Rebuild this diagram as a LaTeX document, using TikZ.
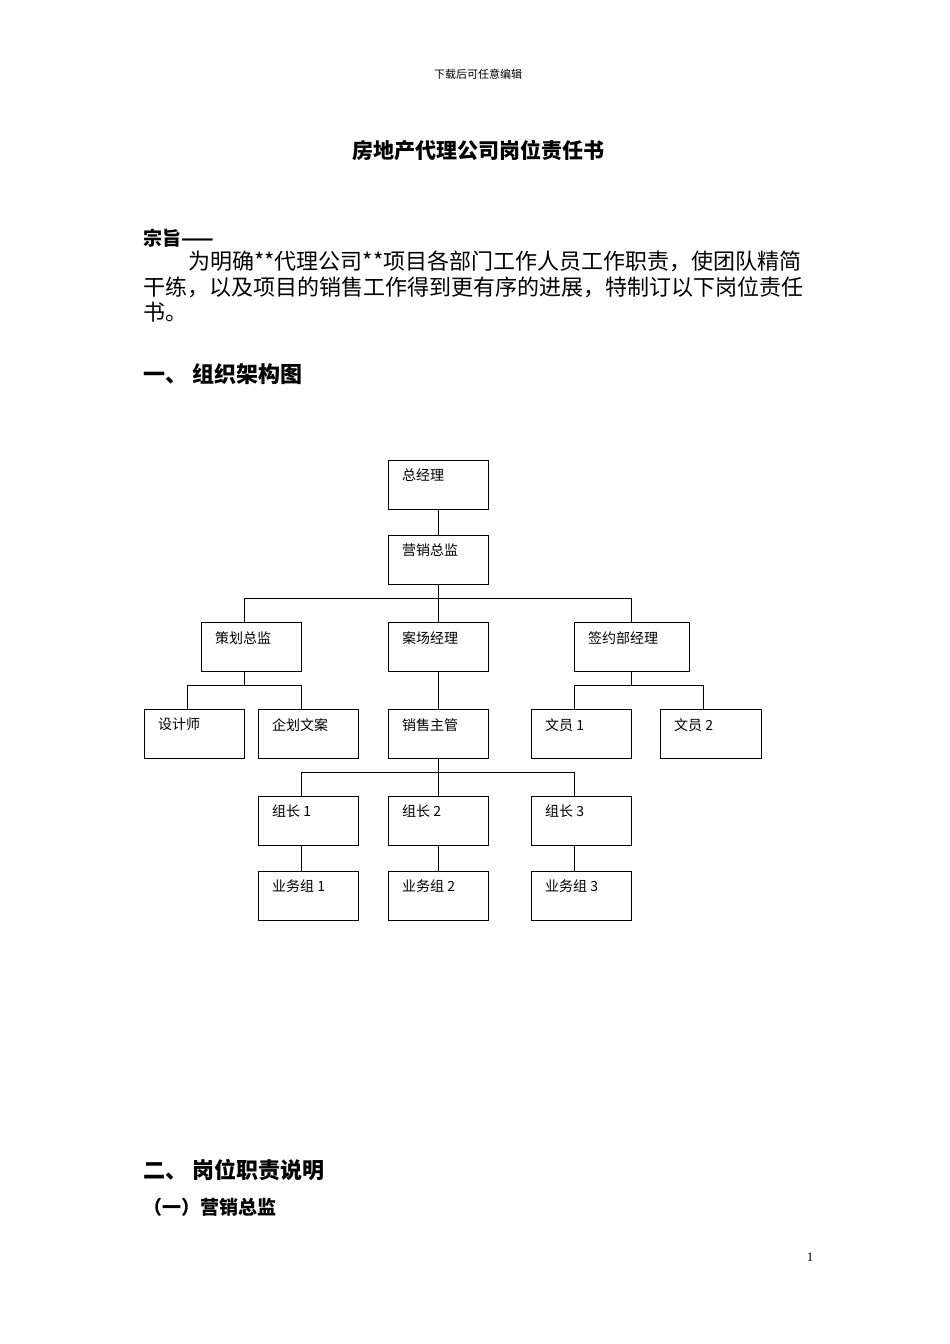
\documentclass[tikz,border=0pt]{standalone}
\usepackage{fontspec}
\setmainfont{Liberation Serif}
\newfontfamily\cjk{Noto Sans CJK SC}
\begin{document}
\begin{tikzpicture}[x=1pt,y=-1pt,
 box/.style={draw,thick,minimum width=100pt,minimum height=49pt,anchor=north west,inner sep=0pt},
 lbl/.style={anchor=north west,font=\cjk\fontsize{14}{16}\selectfont,inner sep=0pt},
 para/.style={anchor=west,font=\cjk\fontsize{22}{25}\selectfont,inner sep=0pt},
 ln/.style={thick}]
\useasboundingbox (0,0) rectangle (950,1344);
\node[font=\cjk\fontsize{11}{13}\selectfont] (hd) at (478,74) {下载后可任意编辑};
\node[font=\cjk\bfseries\fontsize{21}{24}\selectfont] (tt) at (478,150) {房地产代理公司岗位责任书};
\node[anchor=west,font=\cjk\bfseries\fontsize{19}{22}\selectfont,inner sep=0pt] (zz) at (143,238) {宗旨——};
\node[para] (p1) at (188,261) {为明确**代理公司**项目各部门工作人员工作职责，使团队精简};
\node[para] (p2) at (143,287) {干练，以及项目的销售工作得到更有序的进展，特制订以下岗位责任};
\node[para] (p3) at (143,312) {书。};
\node[anchor=west,font=\cjk\bfseries\fontsize{22}{25}\selectfont,inner sep=0pt] (s1) at (143,374) {一、 组织架构图};
\node[anchor=west,font=\cjk\bfseries\fontsize{22}{25}\selectfont,inner sep=0pt] (s2) at (143,1170) {二、 岗位职责说明};
\node[anchor=west,font=\cjk\bfseries\fontsize{19}{22}\selectfont,inner sep=0pt] (s3) at (143,1207) {（一）营销总监};
\node[font=\fontsize{13}{15}\selectfont] (pg) at (810,1257) {1};
\newcommand\bx[5]{\node[box,minimum width=#4pt] (#1) at (#2,#3) {};\node[lbl] at (#2+14,#3+9) {#5};}
\bx{gm}{388}{460}{100}{总经理}
\bx{yx}{388}{535}{100}{营销总监}
\bx{ch}{201}{622}{100}{策划总监}
\bx{ac}{388}{622}{100}{案场经理}
\bx{qy}{574}{622}{115}{签约部经理}
\bx{sj}{144}{709}{100}{设计师}
\bx{qh}{258}{709}{100}{企划文案}
\bx{xs}{388}{709}{100}{销售主管}
\bx{w1}{531}{709}{100}{文员 1}
\bx{w2}{660}{709}{101}{文员 2}
\bx{z1}{258}{796}{100}{组长 1}
\bx{z2}{388}{796}{100}{组长 2}
\bx{z3}{531}{796}{100}{组长 3}
\bx{y1}{258}{871}{100}{业务组 1}
\bx{y2}{388}{871}{100}{业务组 2}
\bx{y3}{531}{871}{100}{业务组 3}
\draw[ln] (gm.south) -- (yx.north);
\draw[ln] (yx.south) -- (yx.south|-0,598) coordinate (b1);
\draw[ln] (244,598) coordinate (b1l) -- (631,598) coordinate (b1r);
\draw[ln] (b1l) -- (b1l|-ch.north); \draw[ln] (b1) -- (ac.north); \draw[ln] (b1r) -- (b1r|-qy.north);
\draw[ln] (ch.south-|244,0) -- (244,685) coordinate (b2);
\draw[ln] (187,685) coordinate (b2l) -- (301,685) coordinate (b2r);
\draw[ln] (b2l) -- (b2l|-sj.north); \draw[ln] (b2r) -- (b2r|-qh.north);
\draw[ln] (ac.south) -- (xs.north);
\draw[ln] (qy.south-|631,0) -- (631,685);
\draw[ln] (574,685) coordinate (b3l) -- (703,685) coordinate (b3r);
\draw[ln] (b3l) -- (b3l|-w1.north); \draw[ln] (b3r) -- (b3r|-w2.north);
\draw[ln] (xs.south) -- (xs.south|-0,772) coordinate (b4);
\draw[ln] (301,772) coordinate (b4l) -- (574,772) coordinate (b4r);
\draw[ln] (b4l) -- (b4l|-z1.north); \draw[ln] (b4) -- (z2.north); \draw[ln] (b4r) -- (b4r|-z3.north);
\draw[ln] (z1.south-|301,0) -- (301,871); \draw[ln] (z2.south) -- (y2.north); \draw[ln] (z3.south-|574,0) -- (574,871);
\end{tikzpicture}
\end{document}
